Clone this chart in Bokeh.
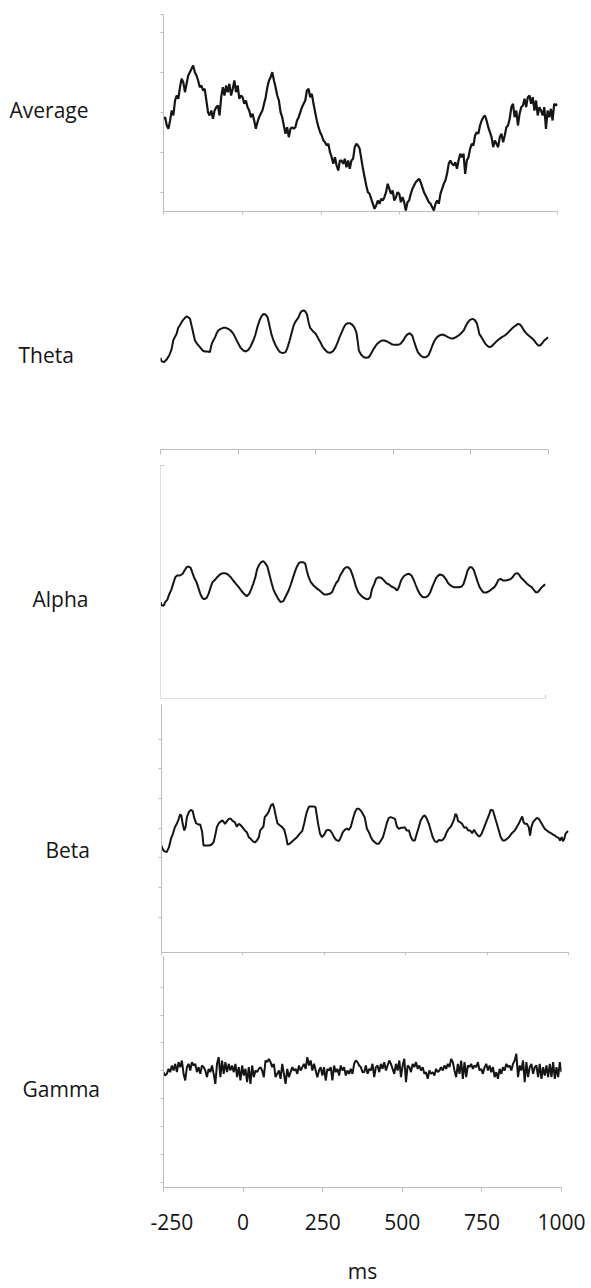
import numpy as np
from bokeh.plotting import figure
from bokeh.layouts import column, row
from bokeh.models import Range1d, FixedTicker
from bokeh.core.properties import value
from bokeh.embed import file_html
from bokeh.resources import INLINE

FONT = "Open Sans"
X_TICKS = [-250, 0, 250, 500, 750, 1000]
PANEL_NAMES = ["Average", "Theta", "Alpha", "Beta", "Gamma"]

# ---------------- data (ms, arbitrary amplitude units) ----------------
avg_values = [57,58,53,51,56,62,59,68,71,69,76,81,79,73,78,83,85,87,89,85,83,80,76,77,74,75,68,61,59,62,
              57,62,64,65,59,70,76,71,77,73,78,71,75,80,73,77,69,71,70,66,68,64,62,58,60,56,51,55,58,60,
              62,66,70,76,80,82,85,80,76,71,68,61,58,53,48,52,46,51,52,51,52,56,58,61,64,66,68,74,75,70,
              72,66,61,56,52,49,47,44,43,41,42,37,34,30,34,29,26,32,32,30,33,28,32,27,32,33,40,42,41,39,
              33,27,22,17,13,12,9,6,3,5,8,6,9,8,10,13,18,15,12,14,8,10,13,12,7,10,7,2,7,8,
              12,15,17,19,20,21,19,16,13,11,9,7,6,4,2,6,8,6,12,15,18,20,24,30,32,30,29,31,27,32,
              36,34,36,24,32,34,39,42,41,47,49,48,53,56,58,59,56,52,49,46,40,44,42,40,46,48,43,47,52,53,
              57,64,66,58,62,53,60,64,65,69,64,70,71,66,70,62,68,59,64,62,59,64,51,62,58,63,56,66,65,66]

theta_t = [-250,-247,-239,-231,-222,-214,-209,-204,-198,-193,
           -188,-182,-177,-171,-166,-161,-155,-150,-144,-139,
           -132,-123,-114,-107,-98,-91,-85,-80,-74,-69,
           -64,-56,-48,-39,-32,-24,-15,-7,1,8,
           17,25,33,40,49,55,62,69,75,82,
           88,95,101,107,114,121,129,135,144,153,
           159,166,173,179,184,189,195,200,205,211,
           216,222,227,232,241,250,257,265,272,280,
           288,297,306,313,321,327,334,340,346,353,
           359,367,374,381,385,389,396,405,413,421,
           428,437,446,454,463,471,480,489,497,506,
           515,523,532,538,545,553,561,566,573,579,
           588,596,605,613,620,626,633,641,650,658,
           667,676,684,693,702,710,719,728,734,741,
           747,755,762,769,773,777,784,790,797,803,
           809,816,825,833,842,850,859,868,876,885,
           893,902,908,915,921,928,936,945,954,960,
           967,973,980,986,993,999]
theta_v = [55.6,53.6,53,54.4,57,61,66,68,70,73.6,
           75,77,78.4,79.6,80.4,80,79,75,70,66,
           64,62,60,59.4,59.4,59,64,66,68,70.4,
           72,73,73.6,73.6,73,72,70,67,64,61.6,
           60,59.4,60.4,62.4,66,69,74,78,80.4,82,
           81.6,80,75,70,66,63,60.4,59,58.4,59,
           61.6,66,71,75,77,78.4,80,82.4,83.6,84,
           83.6,81.6,77,73.6,71.6,70,67.6,65,62.4,60.4,
           59,58.6,59.6,61.6,65,68,71,73.6,75.6,76.4,
           76.4,75.6,74,71,66,60,57.6,56,55.6,56,
           58,61,63.6,65,66,66,65.4,64.4,63.6,63.4,
           63.4,64,66,68,69.6,70.4,69,66,62,59,
           57,56,56,57,60,63,66,68,69.2,69.6,
           69,68,67.4,67.2,68,69,70.4,72.4,75,77,
           78.4,79,78.4,76.4,73.6,70,68,66,64,62.8,
           62,62.4,64,65.6,67,68,69,70.4,72,73.6,
           74.8,76,75.6,74,72,70.4,69,67.6,66,64.4,
           63,63,64.4,66,67,68]

alpha_t = [-250,-246,-239,-235,-228,-222,-215,-209,-202,-196,
           -187,-178,-172,-165,-159,-152,-146,-139,-133,-126,
           -120,-113,-107,-100,-94,-87,-81,-73,-66,-57,
           -48,-40,-31,-22,-14,-5,4,12,21,30,
           38,45,51,58,64,71,77,84,90,97,
           103,110,116,123,132,140,149,158,166,173,
           179,186,192,199,205,214,220,225,231,238,
           247,255,264,273,281,290,299,307,314,320,
           327,333,340,346,353,359,366,372,379,385,
           392,398,407,416,424,431,437,444,450,457,
           466,474,483,492,500,509,518,524,531,539,
           548,557,565,572,578,585,593,602,611,619,
           626,632,639,645,652,658,667,676,684,693,
           702,711,719,728,734,741,747,754,760,767,
           773,780,786,793,799,808,817,825,834,841,
           847,854,862,871,880,888,895,901,908,914,
           921,930,938,947,955,962,968,975,981,988,
           994,1000]
alpha_v = [59,57,57,59,60.4,63.6,66.4,70,74,75,
           75,76,78,80,80.4,79.6,76.4,73,71,67,
           63.6,61.2,60.8,61.6,64,68,71,72.4,74,75.6,
           76.4,76.4,75.6,74,72,70,68,66,64,62.6,
           64,67,70,74,79,81.6,83,83.6,82.4,80.4,
           76,71,67,64,61,59,59.6,63,66,69.6,
           73,77,80,82.4,83,83,82,78,74,71,
           69,67.6,66.4,65,63.6,63.6,64,65,68,70.4,
           72,75,77,79,80,80,78.8,76,72,68,
           65,63.6,62,61,60.8,62,67,70,73,74,
           73.6,72.4,70.4,69.6,68.4,67.6,66,68,72,74.4,
           75.6,76,75,72.4,69.6,66.4,63.6,62,62,62.8,
           65,68,71,73.6,75,75.6,75,73,70.4,68.8,
           68,68,68,68.4,70,74,78,80,80,78.4,
           75,71,68,66,64.8,64.8,65.6,66.8,68,70,
           72.4,73,72,72,72.4,73,74.4,76,76.4,75.6,
           73.6,72,70.4,69,68,66.4,65,65,66.4,68,
           69,69.6]

beta_t = [-250,-247,-242,-234,-227,-221,-215,-209,-203,-197,
          -193,-189,-185,-180,-176,-172,-166,-160,-154,-150,
          -144,-137,-131,-125,-121,-115,-109,-103,-96,-90,
          -84,-80,-74,-68,-62,-55,-49,-43,-37,-31,
          -25,-19,-12,-6,0,6,12,18,24,30,
          37,43,49,53,57,63,67,74,80,86,
          92,96,100,106,114,121,127,133,137,143,
          149,157,166,174,182,188,192,196,203,209,
          217,223,227,231,237,243,250,256,262,268,
          274,280,286,295,301,307,313,319,325,331,
          338,344,350,356,362,368,374,381,387,393,
          399,405,411,417,424,430,436,442,448,454,
          460,467,473,479,485,491,497,503,510,516,
          522,528,534,540,546,553,559,565,571,577,
          583,589,596,602,608,614,620,626,632,639,
          645,649,653,657,661,667,673,680,686,692,
          698,704,710,716,723,727,733,739,745,751,
          757,761,768,774,780,786,792,798,804,811,
          817,823,829,835,841,847,854,858,862,866,
          872,878,882,886,891,897,903,909,915,921,
          927,934,940,946,952,958,964,970,974,979,
          983,987,991,995,1000]
beta_v = [65,63,61.6,61,64,69,72,76,78,81,
          83.6,83,78,74,76,82,85,86.4,85.6,82,
          78.4,77.6,77.6,73,65,65,65,65,65.6,67,
          72,76,78.4,79.4,80,78,79.6,81,81,79.6,
          79,76.4,78,77,75.6,74,73,70,69,67.6,
          66.8,68,70,74,75,76.4,82,83.6,85.6,89,
          90,87.6,83.6,78.4,77,76,74.4,70,65.6,66,
          67,68.4,70,72,73.6,78,81.6,85,88.4,88.4,
          88.4,88,83,78,72,70,71.6,74,74.4,74,
          72.4,70,68.4,67.6,70,73,74.4,75.2,74.4,76,
          81,85,87,87,86,84,82,75,73,70,
          68,67,66,66,68,70,74,78.4,81.6,82,
          81.6,81,76.4,75,75.6,75.6,76,74,74,70,
          68,68,72,76,80,82.4,83,81,78,74,
          70,67.6,67,68.4,68,68.4,70,73,75,76.4,
          79,81,84,83,79.6,79,78,75.6,76,74,
          74,72.4,74.4,72.4,70.8,70.4,72,75,78,81,
          84,86.4,86,82,78,74,70,68,68,69,
          70,71.6,73,74,76,78,81,82.4,79,78,
          78,76,71,76,79,80.4,81.6,81,79,77,
          75,74,73,72.4,71.6,71,70,69.6,68,70,
          67.6,69,72,73,73.6]

gamma_values = [-1,-3,-2,1,-1,3,0,4,-1,5, 2,6,-2,-6,2,4,0,5,3,4,
                -1,2,-2,3,2,0,-4,1,-1,3, -2,-8,4,8,-4,6,-2,5,-1,4,
                0,3,-1,4,-4,2,-6,3,-3,1, -7,2,-8,3,-4,0,-1,1,2,0,
                -4,6,5,7,5,2,4,-4,-2,0, -5,4,-2,-8,1,-4,-1,2,0,1,
                -2,3,0,2,4,1,8,3,6,0, 4,0,-4,0,2,-3,2,-6,1,0,
                2,-6,3,-1,1,-3,3,0,2,-3, 0,-2,1,-2,4,6,5,3,2,-1,
                -1,3,-2,1,0,4,-4,2,3,-1, 4,1,5,0,3,6,4,1,-2,4,
                0,6,-4,3,7,-7,3,2,-1,4, 2,5,1,3,0,2,-2,-1,-5,0,
                -2,-1,-3,1,-1,0,2,0,3,1, 4,2,7,5,0,-4,4,-2,6,-5,
                5,-4,3,2,4,1,3,2,5,0, 1,-2,2,4,0,3,-1,2,-4,-1,
                -5,1,-2,2,0,4,2,3,0,4, 6,10,-4,3,0,6,-7,5,-4,2,
                4,-2,2,3,-4,4,-5,2,-3,3, -4,4,-4,5,-5,2,-4,5,-1]

avg_t = np.linspace(-250, 1000, len(avg_values))
gamma_t = np.linspace(-250, 1000, len(gamma_values))

# ---------------- styling ----------------
AXIS = "#bdbdbd"
INK = "#151515"
NAME_W = 150
PANEL_W = 591 - NAME_W


def make_panel(height, left, right, top, bottom, y0, y1):
    p = figure(width=PANEL_W, height=height, x_range=Range1d(-250, 1000), y_range=Range1d(y0, y1),
               output_backend="svg", toolbar_location=None, tools="",
               min_border_left=left, min_border_right=right,
               min_border_top=top, min_border_bottom=bottom)
    p.grid.visible = False
    p.outline_line_color = None
    p.background_fill_color = "white"
    p.border_fill_color = "white"
    for ax in p.axis:
        ax.axis_line_color = AXIS
        ax.major_tick_line_color = AXIS
        ax.minor_tick_line_color = None
        ax.major_label_text_font_size = "0px"
        ax.major_label_text_color = None
        ax.major_label_standoff = 0
        ax.major_tick_in = 0
        ax.major_tick_out = 3
    p.xaxis.ticker = FixedTicker(ticks=X_TICKS)
    return p


def name_box(panel, name, x, y, top, bottom):
    q = figure(width=NAME_W, height=panel.height, x_range=Range1d(0, NAME_W), y_range=panel.y_range,
               output_backend="svg", toolbar_location=None, tools="",
               x_axis_location=None, y_axis_location=None,
               min_border_left=0, min_border_right=0, min_border_top=top, min_border_bottom=bottom)
    q.grid.visible = False
    q.outline_line_color = None
    q.background_fill_color = "white"
    q.border_fill_color = "white"
    q.text(x=[x], y=[y], text=[name], text_font=value(FONT), text_font_size=value("21px"),
           text_color=INK, text_baseline="alphabetic", text_align="left")
    return row(q, panel, spacing=0)


# Average
p1 = make_panel(238, 13, 34, 14, 27, 1.4, 119.6)
p1.yaxis.ticker = FixedTicker(ticks=[12.8, 36.8, 60.8, 84.8, 108.8, 119.6])
p1.line(avg_t, avg_values, line_width=2.2, color=INK)
r1 = name_box(p1, PANEL_NAMES[0], 9, 62.6, 14, 27)

# Theta
p2 = make_panel(219, 10, 43, 12, 8, 0.6, 120)
p2.yaxis.visible = False
p2.xaxis.major_tick_out = 5
p2.line(theta_t, theta_v, line_width=2, color=INK)
r2 = name_box(p2, PANEL_NAMES[1], 18, 57.6, 12, 8)

# Alpha
p3 = make_panel(245, 10, 46, 8, 4, 1.2, 141)
for ax in p3.axis:
    ax.axis_line_color = "#dedede"
    ax.major_tick_line_color = "#cfcfcf"
    ax.major_tick_out = 0
    ax.major_tick_in = 4
p3.xaxis.ticker = FixedTicker(ticks=[1000])
p3.yaxis.ticker = FixedTicker(ticks=[141])
p3.line(alpha_t, alpha_v, line_width=2, color=INK)
r3 = name_box(p3, PANEL_NAMES[2], 32, 61.2, 8, 4)

# Beta
p4 = make_panel(253, 11, 23, 2, 3, 0.8, 149.6)
p4.yaxis.ticker = FixedTicker(ticks=[22, 39.8, 57.6, 75.4, 93.2, 111, 128.8])
p4.line(beta_t, beta_v, line_width=2, color=INK)
r4 = name_box(p4, PANEL_NAMES[3], 45, 62.6, 2, 3)

# Gamma
p5 = make_panel(333, 13, 30, 0, 101, -70.2, 69)
p5.yaxis.ticker = FixedTicker(ticks=[50, 33.28, 16.56, -0.16, -16.88, -33.6, -50.32, -67.04])
p5.xaxis.major_tick_out = 4
p5.xaxis.major_label_text_font_size = "21px"
p5.xaxis.major_label_text_font = FONT
p5.xaxis.major_label_text_color = INK
p5.xaxis.major_label_standoff = 22
p5.xaxis.major_label_overrides = {-250: "-250"}
p5.xaxis.axis_label = "ms"
p5.xaxis.axis_label_text_font = FONT
p5.xaxis.axis_label_text_font_size = "21px"
p5.xaxis.axis_label_text_font_style = "normal"
p5.xaxis.axis_label_text_color = INK
p5.xaxis.axis_label_standoff = 24
p5.line(gamma_t, gamma_values, line_width=2, color=INK)
r5 = name_box(p5, PANEL_NAMES[4], 22, -10.8, 0, 101)

layout = column(r1, r2, r3, r4, r5, spacing=0)

open("out.html", "w").write(file_html(layout, INLINE))
